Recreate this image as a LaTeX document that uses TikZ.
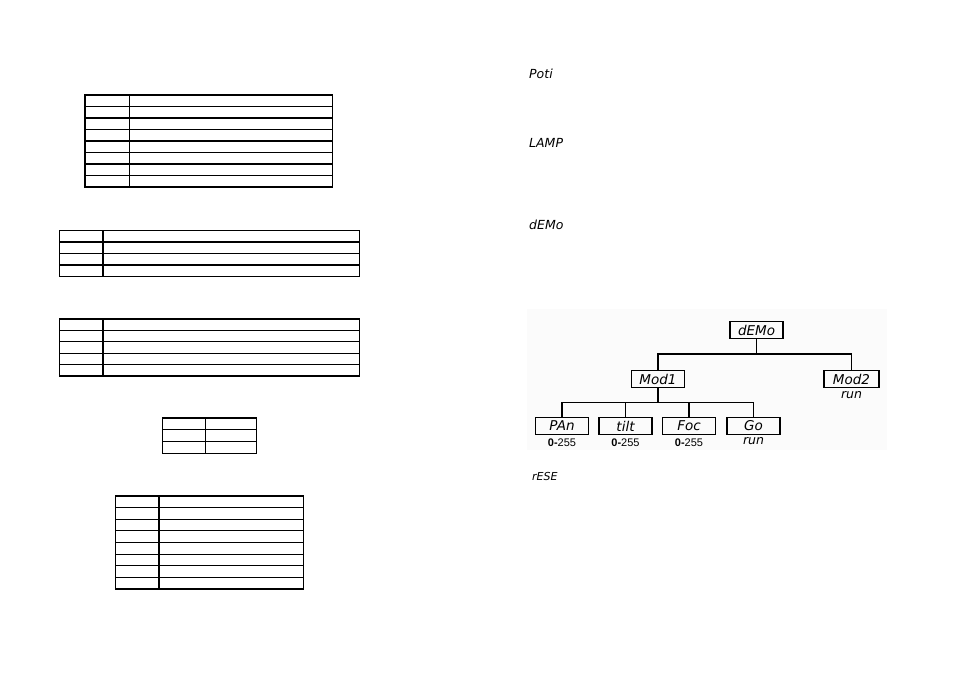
\documentclass[tikz,border=0pt]{standalone}
\usepackage{fontspec}
\setmainfont{Liberation Sans}
\newfontfamily\segfont{DejaVu Sans}
\newcommand{\mygrid}[6]{%
  % #1 left, #2 divider, #3 right, #4 top, #5 bottom, #6 rows
  \draw[tbl] (#1,#4) rectangle (#3,#5);
  \draw[tbl] (#2,#4) -- (#2,#5);
  \pgfmathsetmacro{\rh}{(#5-#4)/#6}
  \foreach \i in {1,...,\numexpr#6-1\relax}{
    \draw[tbl] (#1,{#4+\i*\rh}) -- (#3,{#4+\i*\rh});
  }%
}
\tikzset{
  tbl/.style={line width=1.2pt, line cap=rect},
  seg/.style={font=\segfont\itshape\fontsize{12.5}{12.5}\selectfont, inner sep=0pt},
  segbox/.style={draw, line width=1.3pt, minimum width=53pt, minimum height=17pt, inner sep=0pt,
    font=\segfont\itshape\fontsize{13.5}{13.5}\selectfont},
  sublabel/.style={inner sep=0pt, font=\fontsize{11}{11}\selectfont},
  conn/.style={line width=1.1pt}
}
\begin{document}
\begin{tikzpicture}[x=1pt,y=-1pt]
\useasboundingbox (0,0) rectangle (954,674);
\fill[white] (0,0) rectangle (954,674);

% left tables
\mygrid{85}{129.5}{332.5}{95}{187}{8}
\mygrid{59.5}{103}{359.5}{230.5}{276.5}{4}
\mygrid{59.5}{103}{359.5}{319}{376}{5}
\mygrid{162.5}{205.5}{256.5}{418}{453.5}{3}
\mygrid{115.5}{159}{303.5}{496}{589}{8}

% right labels
\node[seg, anchor=west] (poti) at (529,74) {Poti};
\node[seg, anchor=west] (lamp) at (529,142.5) {LAMP};
\node[seg, anchor=west] (demolbl) at (529,225) {dEMo};
\node[seg, anchor=west, font=\segfont\itshape\fontsize{11}{11}\selectfont] (rese) at (532,476) {rESE};

% tree background
\fill[gray!3] (527,309) rectangle (887,450);

% tree
\node[segbox] (demo) at (756.5,330) {dEMo};
\node[segbox] (mod1) at (658,379) {Mod1};
\node[segbox, minimum width=55pt] (mod2) at (851.5,379) {Mod2};
\node[segbox] (pan) at (562,426) {PAn};
\node[segbox] (tilt) at (625.5,426) {tilt};
\node[segbox] (foc) at (689,426) {Foc};
\node[segbox] (go) at (753.5,426) {Go};

\node[seg] (mod2run) at (851.5,395) {run};
\node[sublabel] (panv) at (562,442.5) {\textbf{0-}255};
\node[sublabel] (tiltv) at (625.5,442.5) {\textbf{0-}255};
\node[sublabel] (focv) at (689,442.5) {\textbf{0-}255};
\node[seg] (gorun) at (753.5,441) {run};

\coordinate (b1) at (756.5,354);
\coordinate (b2) at (658,402.5);
\draw[conn] (demo.south) -- (demo.south |- b1);
\draw[conn] (mod1.north) |- (mod2.north |- b1) -- (mod2.north);
\draw[conn] (mod1.south) -- (mod1.south |- b2);
\draw[conn] (pan.north) |- (go.north |- b2) -- (go.north);
\draw[conn] (tilt.north) -- (tilt.north |- b2);
\draw[conn] (foc.north) -- (foc.north |- b2);
\end{tikzpicture}
\end{document}
